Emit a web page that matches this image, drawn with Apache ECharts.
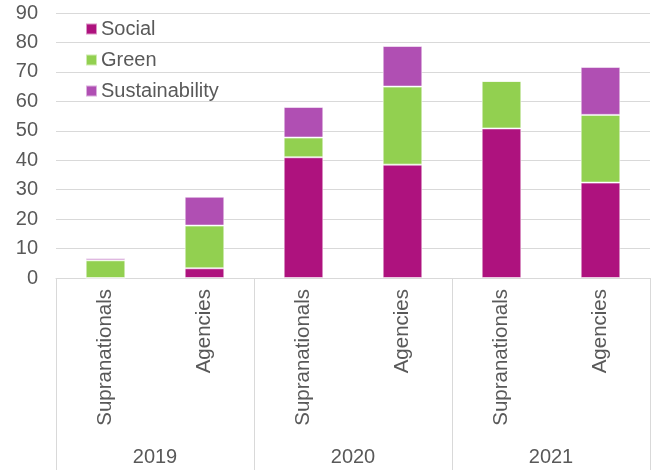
<!DOCTYPE html>
<html>
<head>
<meta charset="utf-8">
<script src="https://cdn.jsdelivr.net/npm/echarts@6/dist/echarts.min.js"></script>
<style>
  html, body { margin: 0; padding: 0; background: #fff; }
  #chart { width: 653px; height: 470px; }
</style>
</head>
<body>
<div id="chart"></div>
<script>
// Issuer types per year and the three bond labels, stacked
const issuers = ['Supranationals', 'Agencies', 'Supranationals', 'Agencies', 'Supranationals', 'Agencies'];
const years = ['2019', '2020', '2021'];
const social = [0, 3.3, 41.0, 38.5, 50.8, 32.4];
const green = [6.0, 14.5, 6.7, 26.5, 16.1, 23.0];
const sustainability = [0.7, 9.8, 10.4, 13.8, 0, 16.3];
const yTicks = { min: 0, max: 90, interval: 10 };

const textColor = '#595959';
const lineColor = '#d9d9d9';
const fontFamily = 'Liberation Sans, Arial, sans-serif';

const chart = echarts.init(document.getElementById('chart'), null, { renderer: 'canvas' });

function barSeries(name, data, color) {
  return {
    name: name,
    type: 'bar',
    stack: 'total',
    data: data,
    barWidth: '40%',
    itemStyle: { color: color, borderColor: 'rgba(255,255,255,0.55)', borderWidth: 1 },
    emphasis: { disabled: true }
  };
}

chart.setOption({
  animation: false,
  textStyle: { fontFamily: fontFamily },
  grid: { left: 56, right: 3, top: 13, bottom: 192, containLabel: false },
  legend: {
    orient: 'vertical',
    left: 80,
    top: 14,
    itemWidth: 11,
    itemHeight: 11,
    itemGap: 11,
    icon: 'rect',
    textStyle: { color: textColor, fontSize: 20, fontFamily: fontFamily, padding: [0, 0, 0, -1] },
    data: ['Social', 'Green', 'Sustainability']
  },
  xAxis: [
    {
      type: 'category',
      data: issuers,
      position: 'bottom',
      axisLine: { show: true, lineStyle: { color: lineColor, width: 1 } },
      axisTick: { show: false },
      axisLabel: {
        rotate: 90,
        interval: 0,
        margin: 11,
        color: textColor,
        fontSize: 20.5,
        fontFamily: fontFamily
      }
    },
    {
      type: 'category',
      data: years,
      position: 'bottom',
      boundaryGap: true,
      axisLine: { show: false },
      axisTick: { show: true, length: 192, lineStyle: { color: lineColor, width: 1 } },
      axisLabel: {
        interval: 0,
        margin: 169,
        color: textColor,
        fontSize: 20,
        fontFamily: fontFamily
      }
    }
  ],
  yAxis: {
    type: 'value',
    min: yTicks.min,
    max: yTicks.max,
    interval: yTicks.interval,
    axisLine: { show: false },
    axisTick: { show: false },
    splitLine: { show: true, lineStyle: { color: lineColor, width: 1 } },
    axisLabel: { color: textColor, fontSize: 20, margin: 18, fontFamily: fontFamily }
  },
  series: [
    barSeries('Social', social, '#ae127e'),
    barSeries('Green', green, '#92d050'),
    barSeries('Sustainability', sustainability, '#b04fb3')
  ]
});
</script>
</body>
</html>
